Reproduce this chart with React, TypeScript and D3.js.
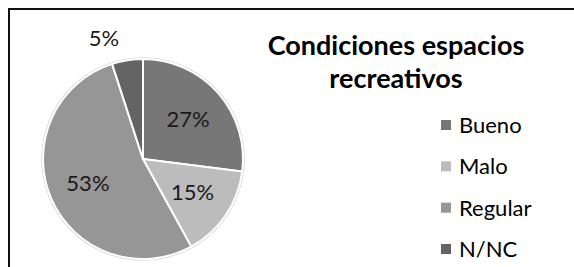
import { useEffect, useRef } from 'react';
import * as d3 from 'd3';

const WIDTH = 574;
const HEIGHT = 267;

const categories = ['Bueno', 'Malo', 'Regular', 'N/NC'];
const values = [27, 15, 53, 5];
const colors = ['#777777', '#bcbcbc', '#969696', '#646464'];
const titleLines = ['Condiciones espacios', 'recreativos'];

const FONT = 'Lato, Calibri, "Noto Sans", sans-serif';

export default function App() {
  const svgRef = useRef<SVGSVGElement>(null);

  useEffect(() => {
    if (!svgRef.current) return;
    const svg = d3.select(svgRef.current);
    svg.selectAll('*').remove();

    // marco del gráfico (se sale por la derecha y por abajo)
    svg
      .append('rect')
      .attr('x', 9)
      .attr('y', 9)
      .attr('width', 700)
      .attr('height', 400)
      .attr('fill', '#fff')
      .attr('stroke', '#111')
      .attr('stroke-width', 2);

    const radius = 100;
    const g = svg.append('g').attr('transform', 'translate(143, 159)');

    const pie = d3
      .pie<number>()
      .sort(null)
      .value(d => d);
    const arcs = pie(values);

    const arc = d3.arc<d3.PieArcDatum<number>>().innerRadius(0).outerRadius(radius);
    const labelArc = d3
      .arc<d3.PieArcDatum<number>>()
      .innerRadius(radius * 0.6)
      .outerRadius(radius * 0.6);
    const outerArc = d3
      .arc<d3.PieArcDatum<number>>()
      .innerRadius(radius * 1.22)
      .outerRadius(radius * 1.22);

    // borde exterior claro
    g.append('circle')
      .attr('r', radius + 1)
      .attr('fill', 'none')
      .attr('stroke', '#d9d9d9')
      .attr('stroke-width', 1.5);

    g.selectAll('path.slice')
      .data(arcs)
      .join('path')
      .attr('class', 'slice')
      .attr('d', arc)
      .attr('fill', (_, i) => colors[i])
      .attr('stroke', '#fff')
      .attr('stroke-width', 2);

    // etiquetas de porcentaje
    g.selectAll('text.pct')
      .data(arcs)
      .join('text')
      .attr('class', 'pct')
      .attr('transform', d => {
        if (d.data < 10) {
          const [x, y] = outerArc.centroid(d);
          return `translate(${x - 20}, ${y})`;
        }
        const [x, y] = labelArc.centroid(d);
        return `translate(${x}, ${y})`;
      })
      .attr('text-anchor', 'middle')
      .attr('dy', '0.35em')
      .style('font-family', FONT)
      .style('font-size', '22px')
      .style('fill', '#1a1a1a')
      .text(d => `${d.data}%`);

    // título
    svg
      .append('g')
      .selectAll('text')
      .data(titleLines)
      .join('text')
      .attr('x', 396)
      .attr('y', (_, i) => 55 + i * 33)
      .attr('text-anchor', 'middle')
      .style('font-family', FONT)
      .style('font-size', '27px')
      .style('font-weight', '700')
      .style('fill', '#000')
      .text(d => d);

    // leyenda
    const legendY = d3
      .scalePoint<string>()
      .domain(categories)
      .range([125, 249]);

    const legend = svg
      .append('g')
      .selectAll('g')
      .data(categories)
      .join('g')
      .attr('transform', d => `translate(441, ${legendY(d)})`);

    legend
      .append('rect')
      .attr('x', 0)
      .attr('y', -5)
      .attr('width', 10)
      .attr('height', 10)
      .attr('fill', (_, i) => colors[i]);

    legend
      .append('text')
      .attr('x', 18)
      .attr('dy', '0.36em')
      .style('font-family', FONT)
      .style('font-size', '22px')
      .style('fill', '#000')
      .text(d => d);
  }, []);

  return (
    <svg
      ref={svgRef}
      width={WIDTH}
      height={HEIGHT}
      style={{ position: 'absolute', left: 0, top: 0, display: 'block', background: '#fff' }}
    />
  );
}
